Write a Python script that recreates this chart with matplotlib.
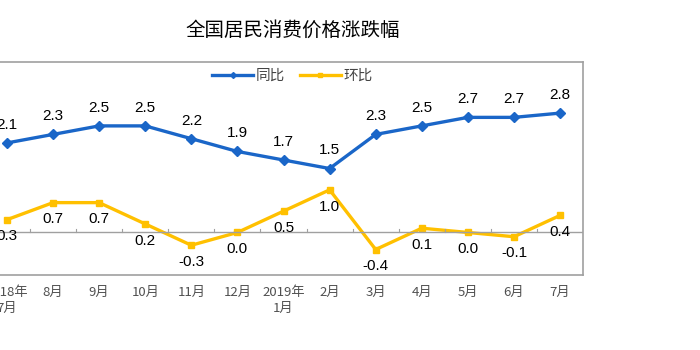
import matplotlib.pyplot as plt
import numpy as np

plt.rcParams['font.family'] = ['Noto Sans CJK SC', 'DejaVu Sans']

months = ['2018年\n7月', '8月', '9月', '10月', '11月', '12月', '2019年\n1月',
          '2月', '3月', '4月', '5月', '6月', '7月']
yoy = [2.1, 2.3, 2.5, 2.5, 2.2, 1.9, 1.7, 1.5, 2.3, 2.5, 2.7, 2.7, 2.8]
mom = [0.3, 0.7, 0.7, 0.2, -0.3, 0.0, 0.5, 1.0, -0.4, 0.1, 0.0, -0.1, 0.4]

blue = '#1A66C8'
yellow = '#FFC000'
grey = '#A0A0A0'

fig = plt.figure(figsize=(7, 3.5), dpi=100)
# axes deliberately starts off the left edge, like the cropped original
ax = fig.add_axes([-0.023, 0.214, 0.856, 0.609])

x = np.arange(len(months))
ax.plot(x, yoy, color=blue, lw=2.4, marker='D', ms=5, label='同比')
ax.plot(x, mom, color=yellow, lw=2.4, marker='s', ms=5, label='环比')

for xi, v in zip(x, yoy):
    ax.annotate(f'{v:.1f}', (xi, v), xytext=(0, 8), textcoords='offset points',
                ha='center', va='bottom', fontsize=11, family='Liberation Sans')
for xi, v in zip(x, mom):
    ax.annotate(f'{v:.1f}', (xi, v), xytext=(0, -7), textcoords='offset points',
                ha='center', va='top', fontsize=11, family='Liberation Sans')

ax.set_xlim(-0.5, len(months) - 0.5)
ax.set_ylim(-1, 4)

# zero line with small ticks between categories
ax.axhline(0, color=grey, lw=1)
for b in np.arange(-0.5, len(months)):
    ax.plot([b, b], [0, 0.08], color=grey, lw=0.8)

ax.set_yticks([])
ax.set_xticks(x)
ax.set_xticklabels(months, fontsize=9.5, color='#505050', linespacing=1.3)
ax.tick_params(axis='x', length=0, pad=8)
for s in ax.spines.values():
    s.set_color(grey)
    s.set_linewidth(1.2)

ax.legend(loc='upper center', bbox_to_anchor=(0.515, 1.03), ncol=2, frameon=False,
          fontsize=10.5, handlelength=2.8, columnspacing=1.0, handletextpad=0.2,
          markerscale=0.6, labelcolor='#444444')

fig.text(0.418, 0.913, '全国居民消费价格涨跌幅', ha='center', va='center', fontsize=14)

fig.savefig('out.png')
